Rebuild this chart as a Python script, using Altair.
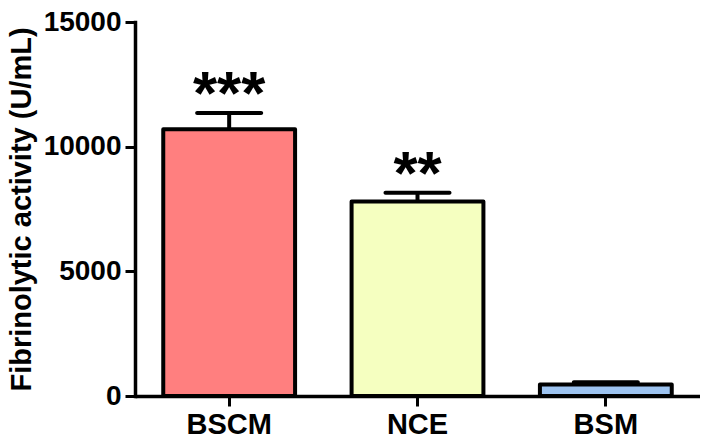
import altair as alt
import pandas as pd

groups = ["BSCM", "NCE", "BSM"]
means = [10700, 7800, 460]
errors = [650, 350, 90]
stars = ["***", "**", ""]
colors = ["#FF7F7F", "#F5FFC0", "#9DC3F0"]

df = pd.DataFrame({
    "group": groups,
    "mean": means,
    "top": [m + e for m, e in zip(means, errors)],
    "stars": stars,
    "color": colors,
})

FONT = "Liberation Sans"

x = alt.X("group:N", sort=groups, title=None,
          scale=alt.Scale(paddingInner=0.3, paddingOuter=0.15),
          axis=alt.Axis(labelAngle=0, labelFont=FONT, labelFontSize=29, labelFontWeight="bold",
                        labelColor="black", labelPadding=4, domainColor="black", domainWidth=3.5,
                        tickColor="black", tickWidth=3, tickSize=10))

y_axis = alt.Axis(values=[0, 5000, 10000, 15000], format="d", labelFont=FONT, labelFontSize=28,
                  labelFontWeight="bold", labelColor="black", labelPadding=4,
                  domainColor="black", domainWidth=3.5, tickColor="black", tickWidth=3,
                  tickSize=10, grid=False, title="Fibrinolytic activity (U/mL)",
                  titleFont=FONT, titleFontSize=29, titleFontWeight="bold", titleColor="black",
                  titlePadding=7, titleLimit=1000)

y = alt.Y("mean:Q", scale=alt.Scale(domain=[0, 15000], nice=False), axis=y_axis)

base = alt.Chart(df)

err = base.mark_rule(color="black", strokeWidth=4).encode(x=x, y=y, y2="top:Q")
cap = base.mark_tick(color="black", opacity=1, thickness=4, size=68, cornerRadius=2).encode(x=x, y="top:Q")
bars = base.mark_bar(stroke="black", strokeWidth=4, strokeJoin="round").encode(
    x=x, y=y, fill=alt.Fill("color:N", scale=None))
txt = base.mark_text(font=FONT, fontSize=62, fontWeight="bold", baseline="bottom", dy=14,
                     color="black").encode(x=x, y="top:Q", text="stars:N")

chart = alt.layer(err, cap, bars, txt).properties(
    width=565, height=374, autosize=alt.AutoSizeParams(type="none"),
    padding={"left": 127, "top": 14, "right": 0, "bottom": 42},
).configure_view(stroke=None).configure_axisY(domainCap="square")

chart.save("out.html", embed_options={"renderer": "svg", "actions": False})
